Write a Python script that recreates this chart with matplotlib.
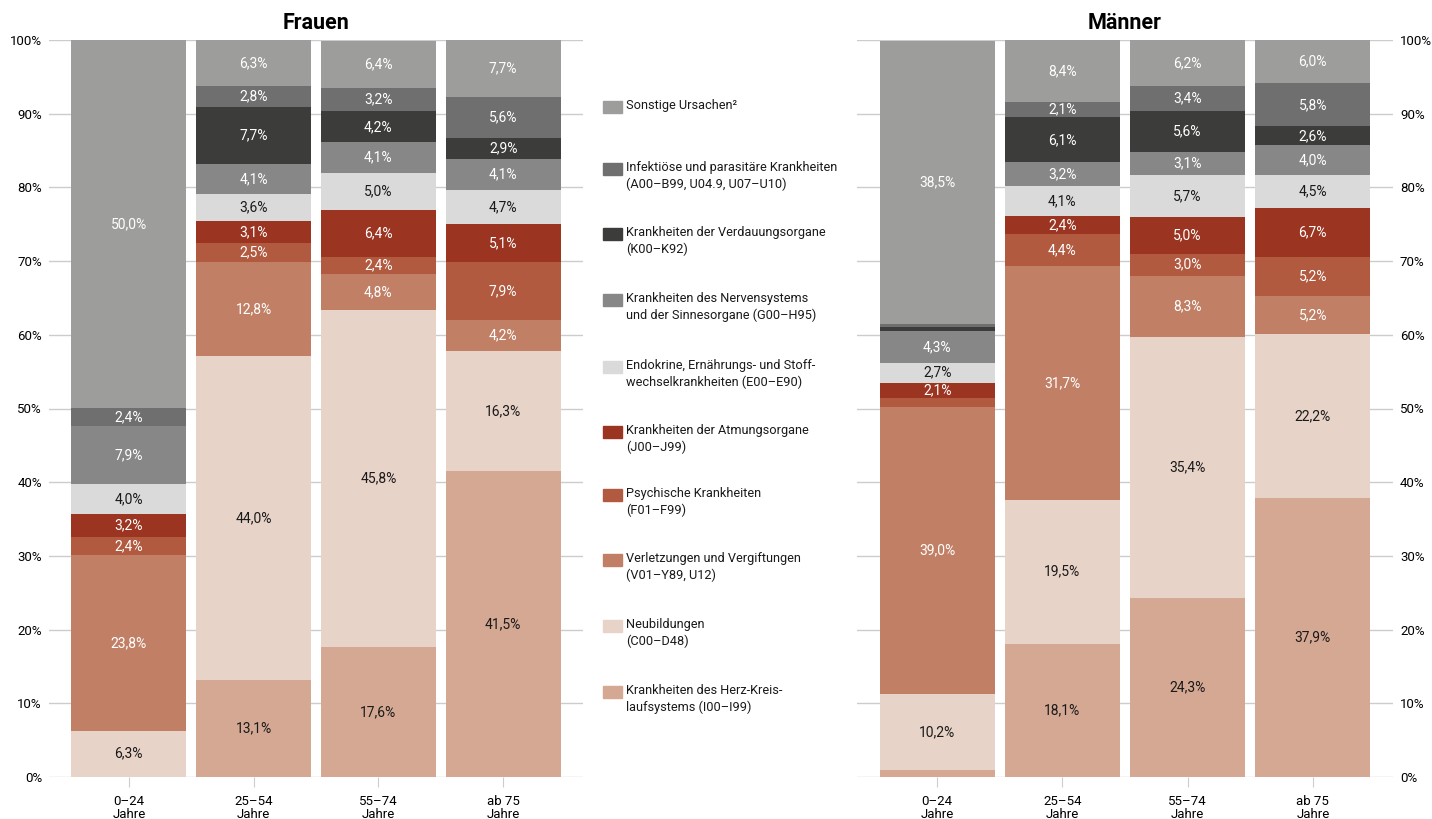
import matplotlib as mpl
import matplotlib.pyplot as plt
from matplotlib.patches import Rectangle
import numpy as np

mpl.rcParams.update({
    "font.family": ["Roboto", "DejaVu Sans"],
    "font.size": 9.5,
    "figure.facecolor": "white",
})

# ----- Data (bottom to top of each stack) -----
age_groups = ["0–24\nJahre", "25–54\nJahre", "55–74\nJahre", "ab 75\nJahre"]

causes = [
    "Krankheiten des Herz-Kreis-\nlaufsystems (I00–I99)",
    "Neubildungen\n(C00–D48)",
    "Verletzungen und Vergiftungen\n(V01–Y89, U12)",
    "Psychische Krankheiten\n(F01–F99)",
    "Krankheiten der Atmungsorgane\n(J00–J99)",
    "Endokrine, Ernährungs- und Stoff-\nwechselkrankheiten (E00–E90)",
    "Krankheiten des Nervensystems\nund der Sinnesorgane (G00–H95)",
    "Krankheiten der Verdauungsorgane\n(K00–K92)",
    "Infektiöse und parasitäre Krankheiten\n(A00–B99, U04.9, U07–U10)",
    "Sonstige Ursachen²",
]

# one list per cause, values for the four age groups
frauen = [
    [0.0, 13.1, 17.6, 41.5],
    [6.3, 44.0, 45.8, 16.3],
    [23.8, 12.8, 4.8, 4.2],
    [2.4, 2.5, 2.4, 7.9],
    [3.2, 3.1, 6.4, 5.1],
    [4.0, 3.6, 5.0, 4.7],
    [7.9, 4.1, 4.1, 4.1],
    [0.0, 7.7, 4.2, 2.9],
    [2.4, 2.8, 3.2, 5.6],
    [50.0, 6.3, 6.4, 7.7],
]
maenner = [
    [1.0, 18.1, 24.3, 37.9],
    [10.2, 19.5, 35.4, 22.2],
    [39.0, 31.7, 8.3, 5.2],
    [1.2, 4.4, 3.0, 5.2],
    [2.1, 2.4, 5.0, 6.7],
    [2.7, 4.1, 5.7, 4.5],
    [4.3, 3.2, 3.1, 4.0],
    [0.5, 6.1, 5.6, 2.6],
    [0.4, 2.1, 3.4, 5.8],
    [38.5, 8.4, 6.2, 6.0],
]

colors = ["#d5a893", "#e8d3c8", "#c18066", "#b15a40", "#9b3522",
          "#dadada", "#878787", "#3c3c3b", "#6f6f6f", "#9d9d9c"]
text_colors = ["#1a1a1a", "#1a1a1a", "white", "white", "white",
               "#1a1a1a", "white", "white", "white", "white"]

W, H = 1432, 819
fig = plt.figure(figsize=(W / 100, H / 100), dpi=100)

y0, y1 = 777, 40
ax_bottom = 1 - y0 / H
ax_h = (y0 - y1) / H


def draw_panel(ax, data, title, right=False):
    x = np.arange(len(age_groups))
    bottom = np.zeros(len(age_groups))
    for vals, col, tcol in zip(data, colors, text_colors):
        vals = np.array(vals)
        ax.bar(x, vals, bottom=bottom, width=0.92, color=col, zorder=2,
               linewidth=0)
        for xi, v, b in zip(x, vals, bottom):
            if v >= 2.0:
                ax.text(xi, b + v / 2, f"{v:.1f}".replace(".", ",") + "%",
                        ha="center", va="center", color=tcol, fontsize=10,
                        zorder=3)
        bottom += vals
    ax.set_xlim(-0.64, 3.64)
    ax.set_ylim(0, 100)
    ax.set_yticks(np.arange(0, 101, 10))
    ax.set_yticklabels([f"{t}%" for t in range(0, 101, 10)])
    ax.set_xticks(x)
    ax.set_xticklabels(age_groups, fontsize=9.5, linespacing=1.0)
    ax.tick_params(axis="x", length=7, color="#cccccc", pad=6)
    ax.tick_params(axis="y", length=0, pad=5, labelsize=9.5)
    if right:
        ax.yaxis.tick_right()
    ax.grid(axis="y", color="#cccccc", lw=1.0, zorder=0)
    for s in ax.spines.values():
        s.set_visible(False)
    ax.set_title(title, fontsize=15.5, fontweight="bold", pad=8)


ax_l = fig.add_axes([49 / W, ax_bottom, (583 - 49) / W, ax_h])
ax_r = fig.add_axes([857 / W, ax_bottom, (1393 - 857) / W, ax_h])
draw_panel(ax_l, frauen, "Frauen")
draw_panel(ax_r, maenner, "Männer", right=True)

# ----- Legend (top entry = top of stack) -----
leg_y = [107, 169, 234, 300, 367, 432, 495, 560, 626, 692]
for yy, lab, col in zip(leg_y, causes[::-1], colors[::-1]):
    fig.patches.append(Rectangle((603 / W, 1 - (yy + 6) / H), 19 / W, 12 / H,
                                 transform=fig.transFigure, color=col))
    fig.text(626 / W, 1 - (yy - 8) / H, lab, ha="left", va="top",
             fontsize=9.2, color="#1a1a1a", linespacing=1.35)

fig.savefig("out.png", dpi=100)
